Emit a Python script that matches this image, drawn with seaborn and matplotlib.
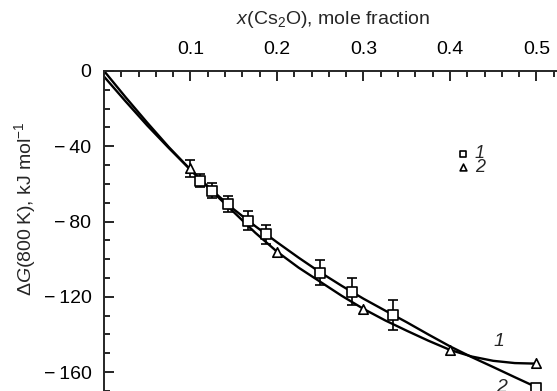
import matplotlib
matplotlib.use("Agg")
import matplotlib.pyplot as plt
import numpy as np
import pandas as pd
import seaborn as sns
from matplotlib.ticker import MultipleLocator

# ---- data ----
sq_x = [0.111, 0.125, 0.143, 0.166, 0.187, 0.25, 0.287, 0.334, 0.5]
sq_y = [-58.3, -63.7, -70.7, -79.5, -86.7, -107.1, -117.2, -129.6, -168.2]
sq_err = [3.5, 4.0, 4.4, 4.9, 5.1, 6.4, 7.0, 7.8, None]

tr_x = [0.1, 0.2, 0.3, 0.4, 0.5]
tr_y = [-51.7, -96.0, -126.4, -148.2, -155.0]
tr_err = [4.4, None, None, None, None]

curve_x = [0.0, 0.025, 0.05, 0.075, 0.1, 0.125, 0.15, 0.175, 0.2, 0.225, 0.25,
           0.275, 0.3, 0.325, 0.35, 0.375, 0.4, 0.425, 0.45, 0.475, 0.5]
# curve through the triangles (labelled 1 at the right end)
curve1_y = [0.0, -14.0, -27.5, -40.5, -52.5, -64.0, -75.0, -86.0, -96.0, -104.5, -112.0,
            -119.5, -126.4, -132.5, -138.0, -143.3, -148.2, -151.7, -154.0, -155.2, -155.5]
# curve through the squares (labelled 2 at the right end)
curve2_y = [-3.0, -16.2, -29.0, -41.0, -52.5, -63.5, -73.5, -82.5, -91.0, -99.2, -107.0,
            -114.2, -121.0, -127.3, -133.5, -140.0, -146.3, -152.0, -157.3, -162.7, -168.0]

curves = pd.DataFrame({
    "x": curve_x * 2,
    "dG": curve1_y + curve2_y,
    "curve": ["1"] * len(curve_x) + ["2"] * len(curve_x),
})
squares = pd.DataFrame({"x": sq_x, "dG": sq_y, "err": sq_err})
triangles = pd.DataFrame({"x": tr_x, "dG": tr_y, "err": tr_err})

FS = 14

sns.set_style("ticks")
plt.rcParams["font.family"] = ["Liberation Sans", "DejaVu Sans"]
plt.rcParams["mathtext.fontset"] = "custom"
plt.rcParams["mathtext.rm"] = "Liberation Sans"
plt.rcParams["mathtext.it"] = "Liberation Sans:italic"

fig = plt.figure(figsize=(5.57, 3.91), dpi=100)
ax = fig.add_axes([0.1867, -0.048, 0.854, 0.8667])

sns.lineplot(data=curves, x="x", y="dG", units="curve", estimator=None,
             color="black", lw=1.7, ax=ax, sort=False)

for df in [squares, triangles]:
    e = df.dropna(subset=["err"])
    ax.errorbar(e["x"], e["dG"], yerr=e["err"], fmt="none", ecolor="black",
                elinewidth=1.2, capsize=3.8, capthick=1.2, zorder=3)

sns.scatterplot(data=squares, x="x", y="dG", marker="s", s=42, facecolor="white",
                edgecolor="black", linewidth=1.2, ax=ax, zorder=4, label="1")
sns.scatterplot(data=triangles, x="x", y="dG", marker="^", s=46, facecolor="white",
                edgecolor="black", linewidth=1.2, ax=ax, zorder=4, label="2")

leg = ax.legend(loc="upper left", bbox_to_anchor=(0.745, 0.78), frameon=False,
                handlelength=0.5, handletextpad=0.4, labelspacing=-0.2,
                markerscale=0.72, prop={"style": "italic", "size": FS - 1},
                borderpad=0, borderaxespad=0)

ax.text(0.457, -144, "1", fontsize=FS, style="italic", ha="center", va="center")
ax.text(0.46, -168.4, "2", fontsize=FS, style="italic", ha="center", va="center")

ax.set_xlim(0, 0.55)
ax.set_ylim(-180, 0)
ax.xaxis.tick_top()
ax.set_xticks([0.1, 0.2, 0.3, 0.4, 0.5])
ax.set_xticklabels(["0.1", "0.2", "0.3", "0.4", "0.5"])
ax.xaxis.set_minor_locator(MultipleLocator(0.02))
ax.set_yticks([0, -40, -80, -120, -160])
ax.set_yticklabels(["0", "\u2212\u200940", "\u2212\u200980", "\u2212\u2009120", "\u2212\u2009160"])
ax.yaxis.set_minor_locator(MultipleLocator(10))
ax.tick_params(which="both", direction="in", width=1.2, labelsize=FS, colors="black")
ax.tick_params(which="major", length=7)
ax.tick_params(which="minor", length=4)
ax.tick_params(axis="x", pad=9)
ax.tick_params(axis="y", pad=9)
for s in ["top", "left"]:
    ax.spines[s].set_linewidth(1.4)
ax.spines["right"].set_visible(False)
ax.spines["bottom"].set_visible(False)
ax.set_xlabel("")
ax.set_ylabel("")

fig.text(0.598, 0.949, "$x$(Cs$_2$O), mole fraction", fontsize=FS,
         ha="center", va="center")
fig.text(0.045, 0.4655, "\u0394$G$(800\u2009K), kJ mol$^{\u22121}$", fontsize=FS,
         ha="center", va="center", rotation=90)

fig.savefig("out.png", dpi=100)
